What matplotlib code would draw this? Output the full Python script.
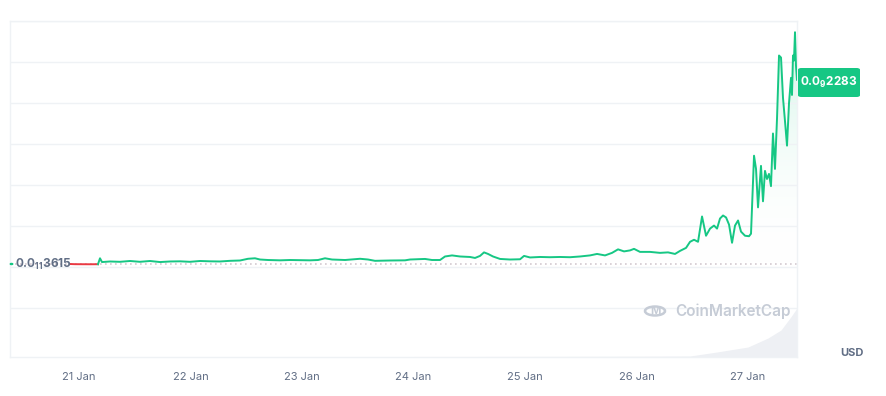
import numpy as np
import pandas as pd
import matplotlib
matplotlib.use("Agg")
import matplotlib.pyplot as plt
import matplotlib.dates as mdates
from matplotlib.patches import FancyBboxPatch, Circle

plt.rcParams["font.family"] = ["Inter", "DejaVu Sans"]
plt.rcParams["mathtext.fontset"] = "custom"
plt.rcParams["mathtext.rm"] = "Inter"
plt.rcParams["mathtext.bf"] = "Inter:bold"

# price in units of 1e-12 USD, time in hours after 21 Jan 00:00
hours = [-1.94, -0.86, 0.65, 2.37, 4.09, 4.52, 4.95, 6.67, 8.83, 10.98, 13.13, 15.28, 17.44,
         19.59, 21.74, 23.89, 26.05, 28.20, 30.35, 32.50, 34.66, 36.38, 37.88, 38.96, 40.68,
         43.27, 45.42, 47.57, 49.72, 51.45, 52.95, 54.46, 57.26, 60.49, 62.21, 63.71, 66.94,
         70.17, 71.25, 74.47, 75.98, 77.71, 78.78, 80.29, 82.01, 84.16, 85.24, 86.32, 87.18,
         88.04, 89.11, 90.62, 92.77, 94.93, 95.79, 97.08, 99.23, 101.38, 103.53, 105.69,
         107.84, 109.99, 111.50, 113.22, 114.73, 116.02, 117.31, 118.60, 119.46, 120.75,
         122.90, 125.06, 126.78, 128.29, 129.36, 130.66, 131.52, 132.38, 133.24, 134.10,
         134.96, 135.82, 136.68, 137.33, 137.97, 138.62, 139.27, 139.91, 140.56, 141.20,
         141.85, 142.49, 143.35, 144.21, 144.64, 145.29, 145.72, 146.15, 146.79, 147.22,
         147.65, 148.08, 148.51, 148.94, 149.37, 149.80, 150.24, 150.67, 151.10, 151.53,
         151.96, 152.39, 152.82, 153.25, 153.46, 153.68, 153.89, 154.11, 154.32, 154.54]
price = [3.615, 3.40, 3.35, 3.30, 3.35, 10.6, 6.0, 6.7, 6.3, 7.3, 6.3, 7.3, 6.0,
         6.7, 6.9, 6.3, 7.3, 6.9, 6.7, 7.5, 7.9, 10.0, 10.6, 9.1, 8.5,
         8.1, 8.5, 8.3, 8.1, 8.5, 10.6, 9.1, 8.5, 10.0, 9.1, 7.5, 7.9,
         8.1, 9.1, 9.8, 8.5, 8.5, 12.8, 14.1, 12.8, 12.2, 11.0, 13.5, 17.8,
         15.9, 12.8, 9.8, 9.1, 9.4, 13.5, 11.6, 12.2, 11.9, 12.2, 11.9,
         12.8, 14.1, 15.9, 14.1, 17.2, 21.5, 19.0, 20.2, 22.1, 18.4,
         18.4, 17.2, 17.8, 15.9, 19.6, 23.3, 30.7, 33.2, 30.7, 61.6,
         38.1, 46.8, 50.5, 46.8, 59.1, 62.8, 60.4, 51.7, 29.5, 50.5,
         56.7, 43.1, 38.1, 37.5, 40.6, 135.7, 119.6, 72.7, 123.3, 80.1,
         117.2, 107.3, 113.5, 98.6, 162.8, 119.6, 181.4, 257.9, 255.4, 206.0,
         177.7, 148.0, 199.9, 230.7, 209.8, 257.9, 251.8, 286.3, 245.6, 228.3]

# 24h volume (arbitrary units)
vol_hours = [-1.94, 24, 48, 72, 96, 120, 131.5, 137.3, 144.0, 148.3, 151.1, 153.2, 154.54]
vol_24h = [0.3, 0.3, 0.4, 0.5, 0.6, 0.8, 1.0, 5, 10, 19, 27, 40, 49]

ref_price = 3.615
ref_label = r"$\mathbf{0.0_{11}3615}$"
last_label = r"$\mathbf{0.0_{9}2283}$"

start = pd.Timestamp("2024-01-21")
t = start + pd.to_timedelta(hours, unit="h")
tv = start + pd.to_timedelta(vol_hours, unit="h")
price = np.array(price)

green = "#16c784"
red = "#ea3943"
grid_c = "#eff2f5"
text_c = "#616e85"

W, H = 886, 396
fig = plt.figure(figsize=(W / 100, H / 100), dpi=100)
rect = [10 / W, 1 - 357 / H, 787 / W, 336 / H]

# volume underneath
axv = fig.add_axes(rect)
axv.fill_between(tv, vol_24h, 0, color="#eef0f4", lw=0)
axv.set_ylim(0, 336)
axv.axis("off")

ax = fig.add_axes(rect, sharex=axv)
ax.patch.set_visible(False)
ax.set_ylim(-109.8, 300)
ax.set_xlim(start + pd.Timedelta(hours=-14.85), t[-1])

# gradient fill under the line
poly = ax.fill_between(t, price, -109.8, color="none", lw=0)
grad = np.linspace(0, 1, 256).reshape(-1, 1)
cmap = matplotlib.colors.LinearSegmentedColormap.from_list(
    "g", [(1, 1, 1, 0), (0.086, 0.78, 0.52, 0.22)])
x0, x1 = ax.get_xlim()
img = ax.imshow(grad, cmap=cmap, aspect="auto", origin="lower",
                extent=[x0, x1, 0, 300], zorder=1)
img.set_clip_path(poly.get_paths()[0], transform=ax.transData)

# reference dotted line
ax.axhline(ref_price, color="#d3c9cf", lw=1.2, ls=(0, (1, 2)), zorder=2)

# price line: red while under the opening price
k = 4
ax.plot(t[:k + 1], price[:k + 1], color=red, lw=1.4, zorder=3)
ax.plot(t[k:], price[k:], color=green, lw=1.4, zorder=3)

ax.set_yticks([-50, 0, 50, 100, 150, 200, 250, 300])
ax.yaxis.grid(True, color=grid_c, lw=1)
ax.tick_params(axis="y", left=False, labelleft=False)
ax.xaxis.set_major_locator(mdates.DayLocator())
ax.xaxis.set_major_formatter(mdates.DateFormatter("%d %b"))
ax.tick_params(axis="x", length=0, pad=11, labelsize=8, labelcolor=text_c)
for s in ax.spines.values():
    s.set_color(grid_c)
    s.set_linewidth(1)

# left reference label
fig.text(15 / W, 1 - 264 / H, ref_label, fontsize=8.5,
         color=text_c, va="center", ha="left")
fig.add_artist(Circle((11.5 / W, 1 - 264 / H), 1.2 / W, color=green,
                      transform=fig.transFigure))

# right last price box
box = FancyBboxPatch((798 / W, 1 - 97 / H), 62 / W, 29 / H,
                     boxstyle="round,pad=0,rounding_size=0.004",
                     fc=green, ec="none", transform=fig.transFigure)
fig.add_artist(box)
fig.text(829 / W, 1 - 82 / H, last_label, fontsize=8.5,
         color="white", ha="center", va="center")

fig.text(852 / W, 1 - 353 / H, "USD", fontsize=8, fontweight="bold",
         color=text_c, ha="center", va="center")

# watermark
wm = "#c6ccd6"
fig.add_artist(Circle((655 / W, 1 - 311 / H), 10 / W, fill=False, ec=wm, lw=1.8,
                      transform=fig.transFigure))
fig.text(655 / W, 1 - 311 / H, "M", fontsize=8, fontweight="bold", color=wm,
         ha="center", va="center")
fig.text(675 / W, 1 - 311 / H, "CoinMarketCap", fontsize=11, fontweight="semibold",
         color=wm, ha="left", va="center")

fig.savefig("out.png", dpi=100)
